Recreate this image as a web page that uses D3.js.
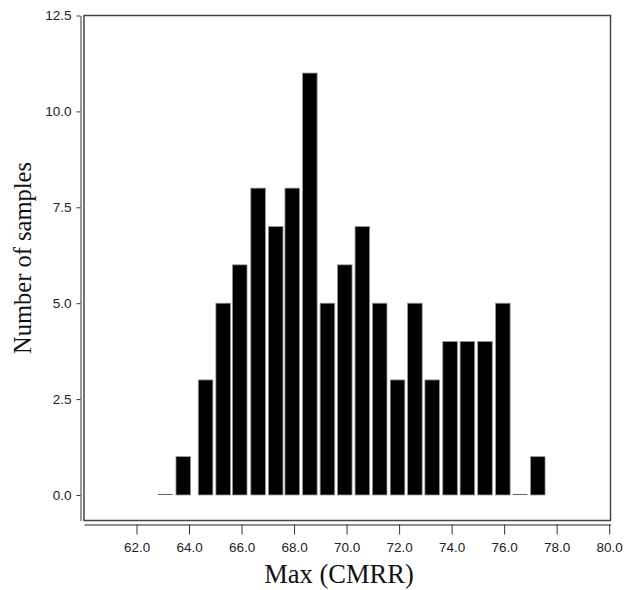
<!DOCTYPE html>
<html>
<head>
<meta charset="utf-8">
<script src="https://cdn.jsdelivr.net/npm/d3@7"></script>
<style>
  html, body { margin: 0; padding: 0; background: #fff; }
  svg { display: block; }
</style>
</head>
<body>
<svg id="chart" width="626" height="590"></svg>
<script>
// ---- data ----
const binCenters = [63.10, 63.78, 64.63, 65.30, 65.93, 66.63, 67.30, 67.93, 68.60, 69.27, 69.93,
                    70.60, 71.26, 71.94, 72.60, 73.26, 73.94, 74.60, 75.27, 75.95, 76.61, 77.28];
const counts     = [0, 1, 3, 5, 6, 8, 7, 8, 11, 5, 6, 7, 5, 3, 5, 3, 4, 4, 4, 5, 0, 1];
const xTicks = [62, 64, 66, 68, 70, 72, 74, 76, 78, 80];
const yTicks = [0, 2.5, 5, 7.5, 10, 12.5];
const xTitle = "Max (CMRR)";
const yTitle = "Number of samples";

// ---- layout ----
const svg = d3.select("#chart");
const box = { left: 84, right: 610.5, top: 15.5, bottom: 520.5 };
const x = d3.scaleLinear().domain([60, 80.05]).range([box.left, box.right]);
const y = d3.scaleLinear().domain([-0.665, 12.5]).range([box.bottom, box.top]);
const barW = 14.6;
const tickFont = "'Liberation Sans', Arial, Helvetica, sans-serif";
const titleFont = "'Liberation Serif', 'Times New Roman', serif";

// plot frame
svg.append("rect")
  .attr("x", box.left).attr("y", box.top)
  .attr("width", box.right - box.left).attr("height", box.bottom - box.top)
  .attr("fill", "none").attr("stroke", "#444").attr("stroke-width", 1.5);

// bars
const data = binCenters.map((c, i) => ({ c, n: counts[i] }));
svg.append("g").selectAll("rect").data(data).join("rect")
  .attr("x", d => x(d.c) - barW / 2)
  .attr("y", d => d.n > 0 ? y(d.n) : y(0) - 1)
  .attr("width", barW)
  .attr("height", d => d.n > 0 ? y(0) - y(d.n) : 1)
  .attr("fill", d => d.n > 0 ? "#000" : "#666")
  .attr("stroke", d => d.n > 0 ? "#999" : "none")
  .attr("stroke-width", 0.8);

// y axis (offset left of the frame)
const yAxis = d3.axisLeft(y).tickValues(yTicks).tickFormat(d3.format(".1f"))
  .tickSize(4).tickSizeOuter(0).tickPadding(5);
const gy = svg.append("g").attr("transform", "translate(80.5,0)").call(yAxis);
gy.select(".domain").attr("stroke", "#555").attr("stroke-width", 1.2);
gy.selectAll(".tick line").attr("stroke", "#333");
gy.selectAll(".tick text").attr("fill", "#222")
  .style("font-family", tickFont).style("font-size", "13.5px");

// x axis (offset below the frame)
const xAxis = d3.axisBottom(x).tickValues(xTicks).tickFormat(d3.format(".1f"))
  .tickSize(10).tickSizeOuter(0).tickPadding(8);
const gx = svg.append("g").attr("transform", "translate(0,524.5)").call(xAxis);
gx.select(".domain").attr("stroke", "#222").attr("stroke-width", 1.2);
gx.selectAll(".tick line").attr("stroke", "#333");
gx.selectAll(".tick text").attr("fill", "#222")
  .style("font-family", tickFont).style("font-size", "13.5px");

// titles
svg.append("text")
  .attr("x", 339).attr("y", 583)
  .attr("text-anchor", "middle")
  .style("font-family", titleFont)
  .style("font-size", "26.5px").attr("fill", "#111")
  .text(xTitle);

svg.append("text")
  .attr("transform", "translate(31,258) rotate(-90)")
  .attr("text-anchor", "middle")
  .style("font-family", titleFont)
  .style("font-size", "24.5px").attr("fill", "#111")
  .text(yTitle);
</script>
</body>
</html>
